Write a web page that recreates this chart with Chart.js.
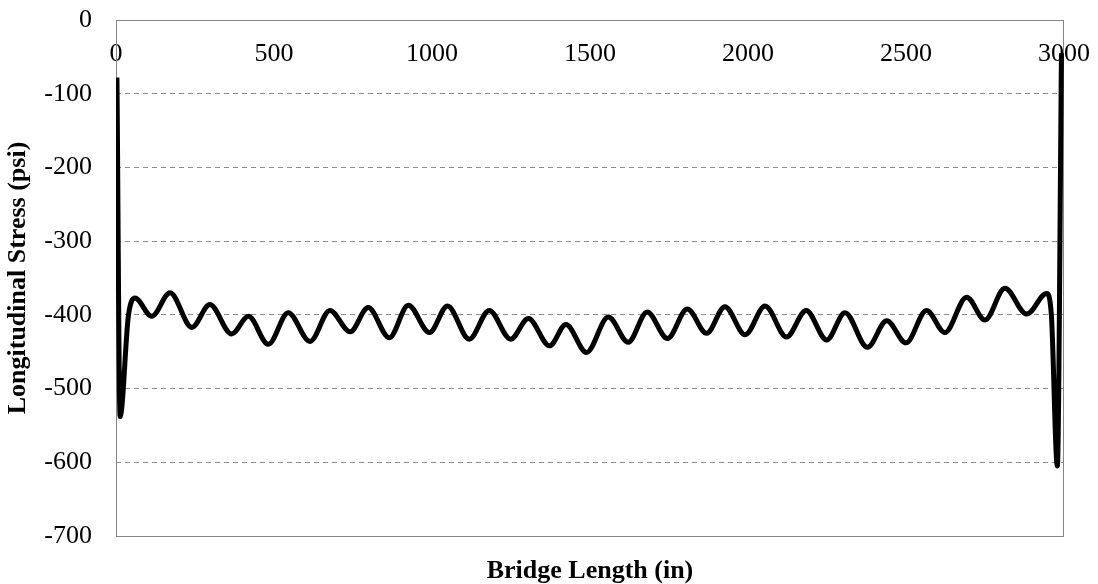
<!DOCTYPE html>
<html>
<head>
<meta charset="utf-8">
<script src="https://cdn.jsdelivr.net/npm/chart.js@4"></script>
<style>
  html, body { margin: 0; padding: 0; background: #fff; }
  #wrap { width: 1098px; height: 584px; }
</style>
</head>
<body>
<div id="wrap"><canvas id="myChart" width="1098" height="584"></canvas></div>
<script>
// bridge length (in) and longitudinal stress (psi)
const lengthIn = [3, 13, 39, 60, 113, 171, 240, 297, 366, 419, 482, 545, 614, 677, 741, 798, 865, 925, 992, 1049,
  1118, 1181, 1249, 1305, 1372, 1424, 1489, 1558, 1621, 1681, 1745, 1808, 1869, 1927, 1991, 2054, 2122, 2184, 2249,
  2307, 2378, 2439, 2500, 2565, 2623, 2692, 2750, 2813, 2882, 2945, 2960, 2979, 2992]
const stressPsi = [-78, -538, -402, -377, -402, -370, -417, -386, -426, -402, -440, -397, -436, -394, -423, -390, -431, -387, -424, -388,
  -433, -394, -433, -405, -442, -413, -451, -403, -437, -396, -432, -392, -425, -389, -427, -388, -430, -394, -434,
  -397, -444, -408, -438, -394, -424, -376, -407, -364, -399, -371, -400, -605, -45]
const xTicks = [0, 500, 1000, 1500, 2000, 2500, 3000]
const yTicks = [0, -100, -200, -300, -400, -500, -600, -700]

const serif = "'Liberation Serif', 'Times New Roman', serif"
const pts = lengthIn.map((x, i) => ({x: x, y: stressPsi[i]}))

// plot frame (solid grey box round the chart area)
const frame = {
  id: 'frame',
  beforeDatasetsDraw(chart) {
    const a = chart.chartArea, c = chart.ctx
    c.save()
    c.strokeStyle = '#868686'
    c.lineWidth = 1
    c.strokeRect(a.left + 0.5, a.top + 0.5, a.right - a.left - 1, a.bottom - a.top)
    c.restore()
  }
}

const ctx = document.getElementById('myChart').getContext('2d')
new Chart(ctx, {
  type: 'line',
  data: {
    datasets: [{
      data: pts,
      borderColor: '#000',
      borderWidth: 5,
      pointRadius: 0,
      fill: false,
      cubicInterpolationMode: 'monotone'
    }]
  },
  plugins: [frame],
  options: {
    responsive: false,
    animation: false,
    layout: { padding: { top: 20, right: 34, left: 0, bottom: 0 } },
    plugins: {
      legend: { display: false },
      tooltip: { enabled: false },
      title: {
        display: true,
        text: 'Bridge Length (in)',
        position: 'bottom',
        fullSize: false,
        color: '#000',
        font: { family: serif, size: 26, weight: 'bold', lineHeight: 1 },
        padding: { top: 22, bottom: 0 }
      }
    },
    scales: {
      x: {
        type: 'linear',
        position: { y: 0 },
        min: 0,
        max: 3000,
        afterBuildTicks(scale) { scale.ticks = xTicks.map(v => ({value: v})) },
        afterFit(scale) { scale.paddingLeft = 0; scale.paddingRight = 0 },
        ticks: {
          color: '#000',
          font: { family: serif, size: 26 },
          padding: 19,
          maxRotation: 0,
          autoSkip: false,
          callback: v => String(v)
        },
        grid: { display: false, drawTicks: false },
        border: { display: false }
      },
      y: {
        type: 'linear',
        position: 'left',
        min: -700,
        max: 0,
        afterBuildTicks(scale) { scale.ticks = yTicks.map(v => ({value: v})) },
        afterFit(scale) { scale.width = 116; scale.paddingTop = 0; scale.paddingBottom = 0 },
        ticks: {
          color: '#000',
          font: { family: serif, size: 26 },
          padding: 24,
          callback: v => String(v)
        },
        grid: {
          drawTicks: false,
          color: c => (c.tick && (c.tick.value === 0 || c.tick.value === -700)) ? 'rgba(0,0,0,0)' : '#8c8c8c',
          lineWidth: 1
        },
        border: { display: false, dash: [5, 4] },
        title: {
          display: true,
          text: 'Longitudinal Stress (psi)',
          color: '#000',
          font: { family: serif, size: 26, weight: 'bold' },
          padding: { top: 3, bottom: 0 }
        }
      }
    }
  }
})
</script>
</body>
</html>
